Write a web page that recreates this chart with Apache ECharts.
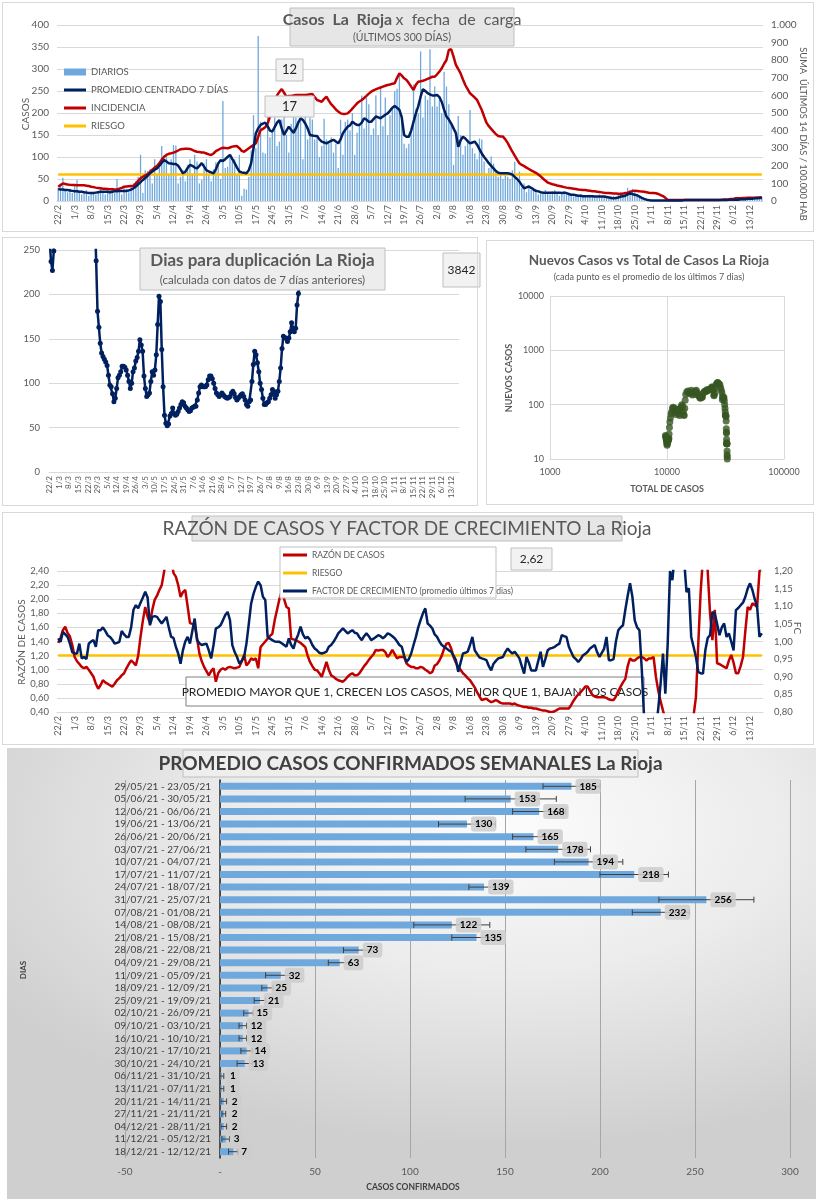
<!DOCTYPE html>
<html><head><meta charset="utf-8">
<script src="https://cdn.jsdelivr.net/npm/echarts@6.0.0/dist/echarts.min.js"></script>
<style>
body{margin:0;width:816px;height:1200px;position:relative;background:#fff;overflow:hidden}
.c{position:absolute}
.b{position:absolute;border:1px solid #d9d9d9;box-sizing:border-box;pointer-events:none;z-index:5}
#c5{background:radial-gradient(ellipse 75% 70% at 62% 18%, #fcfcfc 0%, #ececec 45%, #cfcfcf 100%)}
</style></head><body>
<div class="b" style="left:2px;top:2px;width:812px;height:230px"></div>
<div class="b" style="left:2px;top:237px;width:476px;height:269px"></div>
<div class="b" style="left:486px;top:240px;width:328px;height:265px"></div>
<div class="b" style="left:2px;top:512px;width:812px;height:233px"></div>
<div id="c1" class="c" style="left:0;top:0;width:816px;height:235px"></div>
<div id="c2" class="c" style="left:0;top:235px;width:482px;height:273px"></div>
<div id="c3" class="c" style="left:482px;top:235px;width:334px;height:273px"></div>
<div id="c4" class="c" style="left:0;top:508px;width:816px;height:240px"></div>
<div id="c5" class="c" style="left:7px;top:748px;width:809px;height:451px"></div>
<script>
// ---------- DATA ----------
const NDAYS = 300; // 22/2/2021 .. 18/12/2021
const dates = [];
for (let i = 0; i < NDAYS; i++) { const d = new Date(Date.UTC(2021, 1, 22 + i)); dates.push(d.getUTCDate() + '/' + (d.getUTCMonth() + 1)); }

const diarios = [
30,40,53,25,20,28,18,
35,48,22,15,20,25,12,18,20,15,22,28,18,15,25,20,30,18,50,22,15,30,28,20,35,40,45,55,105,18,70,
68,72,40,95,60,75,125,100,108,60,95,127,126,40,55,70,45,82,95,60,105,90,40,48,85,95,60,45,72,88,
90,50,227,75,78,105,90,95,60,105,12,28,26,55,115,195,120,375,180,110,108,200,145,160,190,125,135,185,195,150,110,
175,195,190,180,185,95,210,140,190,185,140,145,100,125,187,140,130,145,110,130,75,185,105,180,185,160,200,105,155,175,
240,165,235,220,150,165,240,150,255,170,235,150,195,210,250,255,290,195,130,120,130,160,265,210,200,340,190,240,230,345,215,
260,215,230,200,294,260,220,175,82,160,193,150,105,125,140,207,120,108,95,142,140,90,60,75,101,85,70,55,60,50,65,
55,50,70,89,45,67,30,40,20,35,25,30,28,15,22,18,25,20,15,22,25,20,12,18,22,15,18,12,10,15,
12,15,10,12,8,14,12,10,8,15,12,10,8,5,10,12,8,15,20,10,18,30,25,28,22,15,10,8,5,3,2,
1,2,1,0,1,2,1,1,3,1,0,2,1,1,3,2,1,2,2,3,1,2,2,1,3,2,1,2,3,2,
2,3,2,4,3,2,4,5,3,4,6,5,4,7,6,8,7,9];

const promedio7 = [
27,26,26,25,25,24,23,
22,22,21,21,20,19,18,18,18,19,20,21,21,21,21,20,21,22,22,23,23,23,23,24,26,29,33,38,43,48,52,
57,63,67,71,74,80,87,93,90,86,85,84,84,80,72,63,66,75,82,80,76,74,80,86,78,70,67,65,63,72,
85,93,91,95,100,105,95,86,76,67,65,64,63,70,86,120,154,165,173,176,178,170,160,158,168,178,184,165,150,160,169,
162,155,165,178,188,184,176,165,150,149,148,148,140,135,133,131,134,137,139,135,131,140,154,162,169,172,180,176,173,173,
178,188,185,180,180,186,192,190,188,192,196,199,205,212,216,212,207,190,150,146,146,160,180,199,215,237,254,250,245,242,240,
240,241,236,225,207,192,185,176,165,154,123,138,146,142,136,131,133,135,128,118,108,100,93,86,80,74,68,64,63,63,63,
63,62,60,55,50,44,36,29,31,33,30,26,23,22,20,19,19,19,19,19,19,19,19,18,19,18,16,14,14,13,
12,12,11,11,11,11,11,10,10,10,10,10,9,8,7,6,7,8,10,11,12,15,17,16,14,13,10,7,5,3,2,
1,1,1,1,1,1,1,1,1,1,1,1,1,1,2,2,2,2,2,2,2,2,2,2,2,2,2,2,2,2,
2,2,2,3,3,3,3,3,4,4,4,5,5,5,6,6,7,7];

const incidencia = [
81,90,100,97,94,92,91,
91,90,90,89,89,87,85,81,79,76,74,72,70,69,68,67,67,66,66,70,75,81,83,84,85,86,100,115,129,138,146,
153,165,178,190,199,215,235,252,262,268,271,275,280,287,294,296,297,297,296,290,284,280,278,276,275,270,265,261,270,283,
290,298,303,301,299,304,309,311,312,300,285,280,290,300,309,318,328,365,403,410,419,440,479,520,564,600,620,636,615,593,597,
597,600,602,602,602,602,602,604,606,608,590,574,569,564,580,593,570,550,536,520,508,498,495,495,498,510,525,540,555,565,
574,585,597,610,621,628,635,640,645,650,655,659,662,666,669,700,725,712,697,688,670,650,631,660,678,680,683,688,694,700,706,
706,720,735,754,780,801,858,862,820,773,750,725,690,659,635,612,600,588,574,545,517,480,445,425,410,394,380,369,367,366,350,
330,305,280,258,235,214,205,198,190,182,174,167,160,150,140,128,116,105,100,95,92,88,85,82,79,76,74,72,70,68,
65,64,63,62,60,58,56,55,53,51,49,47,46,45,44,43,42,41,40,42,45,47,52,56,59,57,55,54,53,50,47,
46,45,44,40,34,28,18,6,5,5,5,5,5,5,5,5,5,5,5,5,5,5,5,5,5,5,5,5,5,6,
7,8,9,10,12,13,15,15,16,17,17,18,18,19,19,20,20,21];

const riesgoIncidencia = 150;

const diasDuplicacion = [
260,237,227,249,290,
null,null,null,null,null,null,null,null,null,null,null,null,null,null,null,null,null,null,null,null,null,null,null,null,null,null,null,null,
290,238,181,163,145,134,130,127,124,120,
109,98,96,88,79,83,94,106,109,113,119,119,118,115,109,102,94,100,113,117,125,129,136,149,143,136,108,94,85,87,89,102,113,
109,115,132,166,198,192,138,96,64,55,52,54,63,66,72,66,64,65,
68,72,76,79,78,74,72,70,68,69,72,73,74,74,81,89,96,98,96,96,96,98,104,108,108,105,100,94,89,87,85,87,89,87,85,84,83,84,85,89,91,88,84,81,83,85,87,88,85,81,76,74,79,
81,102,121,136,132,123,113,100,93,83,
76,76,78,79,83,87,93,91,83,87,91,102,117,139,153,151,151,147,151,158,168,162,158,162,188,201,218,237,262,300];

const nuevosVsTotal = [
[9700,27],[9750,26],[9800,25],[9850,23],[9900,22],[9940,21],[9980,19],[10020,18],[10060,19],[10100,21],
[10140,21],[10185,21],[10230,22],[10275,23],[10320,23],[10370,24],[10420,29],[10490,38],[10580,48],[10690,57],
[10810,67],[10960,74],[11130,87],[11310,90],[11480,85],[11650,84],[11800,72],[11930,66],[12090,82],[12250,76],
[12400,80],[12560,78],[12700,67],[12830,63],[12990,85],[13180,91],[13380,100],[13580,95],[13760,76],[13900,65],
[14030,63],[14180,86],[14300,120],[14450,154],[14780,173],[15130,178],[15470,160],[15790,168],[16140,184],[16460,150],
[16780,169],[17100,155],[17440,178],[17810,184],[18150,165],[18460,149],[18750,148],[19030,135],[19290,131],[19560,137],
[19830,135],[20110,140],[20410,162],[20750,172],[21100,176],[21450,173],[21810,188],[22180,180],[22550,186],[22930,190],
[23310,192],[23710,199],[24130,212],[24560,212],[24950,190],[25100,150],[25250,146],[25550,160],[25900,199],[26350,237],
[26850,250],[27100,256],[27350,250],[27800,240],[28280,236],[28720,207],[29100,185],[29450,165],[29730,123],[29850,138],
[30130,142],[30400,131],[30660,135],[30920,118],[31120,100],[31300,86],[31450,74],[31580,64],[31700,63],[31830,63],
[31950,60],[32050,50],[32130,36],[32190,31],[32250,30],[32300,23],[32340,20],[32380,19],[32440,19],[32500,19],
[32560,19],[32610,14],[32650,12],[32700,11],[32740,10],[32780,9]];

const razonCasos = [
1.38,1.45,1.56,1.61,1.52,1.47,1.35,
1.18,1.12,1.08,1.04,1.02,1.04,1.00,0.95,0.90,0.80,0.73,0.78,0.85,0.82,0.80,0.78,0.76,0.80,0.85,0.88,0.92,0.95,1.02,1.08,1.13,1.10,1.06,1.20,1.47,1.70,1.89,
1.75,1.66,1.85,1.99,2.05,2.13,2.20,2.39,2.60,2.80,2.60,2.37,2.32,2.20,2.03,2.10,2.13,1.90,1.66,1.65,1.63,1.45,1.23,1.12,1.04,0.98,0.92,0.98,1.02,0.83,
0.95,1.00,1.02,1.00,1.03,1.04,1.03,1.02,1.03,1.04,1.12,1.21,1.06,1.10,1.16,1.14,1.16,1.02,1.32,1.36,1.40,1.44,1.48,1.51,1.70,1.85,2.00,2.11,2.00,1.89,1.87,
1.44,1.43,1.42,1.40,1.38,1.35,1.32,1.20,1.11,1.05,1.00,0.99,0.95,0.90,1.00,1.11,1.00,0.92,0.90,0.87,0.85,0.84,0.83,0.86,0.90,0.93,0.95,0.92,0.92,0.95,
1.00,1.05,1.09,1.14,1.18,1.22,1.28,1.27,1.28,1.28,1.25,1.18,1.22,1.28,1.22,1.16,1.18,1.18,1.18,1.09,1.06,1.04,1.04,1.02,1.02,1.04,1.03,1.00,0.98,0.95,0.97,
1.06,1.08,1.13,1.20,1.30,1.37,1.38,1.30,1.18,1.10,1.04,1.00,0.95,0.92,0.88,0.85,0.80,0.75,0.68,0.62,0.57,0.58,0.59,0.56,0.54,0.55,0.57,0.55,0.53,0.52,0.52,
0.52,0.52,0.51,0.52,0.50,0.49,0.48,0.47,0.47,0.46,0.46,0.45,0.45,0.44,0.43,0.42,0.42,0.41,0.40,0.40,0.41,0.43,0.45,0.45,0.45,0.45,0.45,0.50,0.56,0.61,
0.65,0.68,0.72,0.76,0.76,0.70,0.64,0.62,0.61,0.61,0.61,0.61,0.60,0.58,0.57,0.57,0.62,0.70,0.76,0.82,0.87,1.05,1.16,1.13,1.13,1.16,1.18,1.18,1.16,1.13,1.16,
1.16,1.18,0.90,0.70,0.55,0.42,0.30,0.20,0.20,0.20,0.20,0.20,0.20,0.20,0.20,0.20,0.20,0.20,0.35,0.61,1.37,2.10,2.60,2.80,2.40,1.80,1.42,1.85,1.09,1.08,
1.06,1.04,1.02,1.13,1.21,1.10,0.95,0.95,1.05,1.18,1.55,1.89,1.85,1.94,1.92,1.89,2.39,2.50];

const factorCrecimiento = [
1.009,0.999,1.027,1.020,1.013,0.994,0.970,
0.966,0.966,0.994,0.952,0.956,0.950,0.994,1.000,1.004,0.985,1.032,1.032,1.040,1.030,1.018,1.013,1.005,0.994,0.996,0.999,1.030,1.020,1.013,1.013,1.040,1.090,1.103,1.094,1.110,1.125,1.141,
1.125,1.046,1.070,1.072,1.070,1.060,1.051,1.060,1.070,1.040,1.013,1.010,0.985,0.966,0.937,0.975,1.000,1.013,0.994,1.030,1.065,1.004,0.995,0.990,0.992,0.994,0.975,0.952,0.990,1.037,
1.040,1.046,1.060,1.075,1.084,1.061,0.990,0.970,0.956,0.937,0.945,0.956,0.994,1.050,1.108,1.135,1.155,1.170,1.160,1.127,1.118,1.013,1.008,1.004,1.000,0.999,0.999,0.995,0.990,0.985,1.009,
0.990,0.980,1.004,1.020,1.042,1.020,1.009,1.013,1.005,0.990,0.980,0.975,0.968,0.966,0.968,0.971,0.985,0.990,0.999,1.010,1.023,1.030,1.037,1.030,1.023,1.028,1.032,1.025,1.023,1.012,
1.004,1.015,1.023,1.015,1.004,1.008,1.013,1.018,1.015,1.009,1.015,1.023,1.020,1.015,1.009,1.000,0.990,0.985,0.960,0.942,0.950,0.966,0.990,1.013,1.040,1.061,1.080,1.094,1.051,1.045,1.037,
1.020,1.013,1.000,0.990,0.985,0.980,0.975,0.971,0.960,0.947,0.914,0.940,0.966,0.968,0.971,0.990,1.013,0.975,0.965,0.955,0.952,0.950,0.947,0.930,0.918,0.937,0.945,0.952,0.954,0.956,0.970,
0.980,0.972,0.966,0.971,0.962,0.952,0.930,0.909,0.956,0.940,0.918,0.918,0.918,0.945,0.971,0.928,0.950,0.975,0.980,0.982,0.985,0.990,0.994,1.018,1.015,1.013,0.985,0.970,0.956,0.950,
0.942,0.950,0.961,0.965,0.971,0.980,0.985,0.990,0.970,0.956,0.968,0.980,1.013,0.947,0.947,0.950,1.000,1.032,1.040,1.046,1.090,1.130,1.165,1.127,1.060,1.040,1.032,0.920,0.780,0.700,0.700,
0.700,0.700,0.750,0.810,0.881,0.966,0.852,0.994,1.200,1.174,1.250,1.300,1.300,1.280,1.230,1.140,1.151,1.013,0.985,0.956,0.914,0.910,0.909,0.975,1.010,1.018,1.084,1.079,1.050,1.018,
1.040,1.051,1.013,1.023,1.000,0.975,1.089,1.095,1.103,1.110,1.127,1.150,1.165,1.146,1.120,1.099,1.013,1.023];

const riesgoRazon = 1.20;

const semanas = ["29/05/21 - 23/05/21","05/06/21 - 30/05/21","12/06/21 - 06/06/21","19/06/21 - 13/06/21","26/06/21 - 20/06/21",
"03/07/21 - 27/06/21","10/07/21 - 04/07/21","17/07/21 - 11/07/21","24/07/21 - 18/07/21","31/07/21 - 25/07/21",
"07/08/21 - 01/08/21","14/08/21 - 08/08/21","21/08/21 - 15/08/21","28/08/21 - 22/08/21","04/09/21 - 29/08/21",
"11/09/21 - 05/09/21","18/09/21 - 12/09/21","25/09/21 - 19/09/21","02/10/21 - 26/09/21","09/10/21 - 03/10/21",
"16/10/21 - 10/10/21","23/10/21 - 17/10/21","30/10/21 - 24/10/21","06/11/21 - 31/10/21","13/11/21 - 07/11/21",
"20/11/21 - 14/11/21","27/11/21 - 21/11/21","04/12/21 - 28/11/21","11/12/21 - 05/12/21","18/12/21 - 12/12/21"];
const promedioSemanal = [185,153,168,130,165,178,194,218,139,256,232,122,135,73,63,32,25,21,15,12,12,14,13,1,1,2,2,2,3,7];
const errorSemanal = [15,24,14,15,11,17,18,18,8,25,15,20,13,8,6,8,3,3,2.5,2,2,3,4,1,1,1.5,1,1.5,2,2.5];

// ---------- HELPERS ----------
const FONT = 'Lato, "Noto Sans", sans-serif';
const GRAY = '#595959';
const GL = '#d9d9d9';
function rect(x, y, w, h, fill, stroke, z) { return { type: 'rect', silent: true, z: z, shape: { x: x, y: y, width: w, height: h }, style: { fill: fill, stroke: stroke, lineWidth: 1 } }; }
function text(x, y, t, size, weight, color, z, extra) {
  return Object.assign({ type: 'text', silent: true, z: z, x: x, y: y,
    style: { text: t, fontSize: size, fontWeight: weight || 'normal', fontFamily: FONT, fill: color || GRAY, textAlign: 'center', textVerticalAlign: 'middle' } }, extra || {});
}
const comma2 = v => v.toFixed(2).replace('.', ',');
function dateAxis(fs) {
  return { type: 'category', data: dates, boundaryGap: true, axisTick: { show: false },
    axisLine: { lineStyle: { color: GL } },
    axisLabel: { interval: 6, rotate: 90, fontSize: fs, color: GRAY, fontFamily: FONT, margin: 4 } };
}
const lastIdx = NDAYS - 1;
const UP = Math.PI / 2, DOWN = -Math.PI / 2;

// ---------- CHART 1 ----------
const c1 = echarts.init(document.getElementById('c1'));
const legTxt1 = { fontSize: 9.5, color: GRAY, fontFamily: FONT, lineHeight: 12 };
c1.setOption({
  animation: false,
  textStyle: { fontFamily: FONT },
  grid: { left: 57, right: 53, top: 25, height: 176, containLabel: false, outerBoundsMode: 'none' },
  legend: [
    { orient: 'vertical', left: 64, top: 66, itemWidth: 22, itemHeight: 7, padding: 0, textStyle: legTxt1,
      data: [{ name: 'DIARIOS', icon: 'rect' }] },
    { orient: 'vertical', left: 64, top: 84, itemWidth: 22, itemHeight: 3, itemGap: 6, padding: 0, textStyle: legTxt1,
      data: [{ name: 'PROMEDIO CENTRADO 7 DÍAS', icon: 'rect' }, { name: 'INCIDENCIA', icon: 'rect' }, { name: 'RIESGO', icon: 'rect' }] }
  ],
  xAxis: dateAxis(9),
  yAxis: [
    { type: 'value', min: 0, max: 400, interval: 50, axisLine: { show: false }, axisTick: { show: false },
      axisLabel: { fontSize: 10, color: GRAY, margin: 8 }, splitLine: { lineStyle: { color: GL } } },
    { type: 'value', min: 0, max: 1000, interval: 100,
      axisLine: { show: false }, axisTick: { show: false }, splitLine: { show: false },
      axisLabel: { fontSize: 10, color: GRAY, margin: 8, formatter: v => v === 1000 ? '1.000' : String(v) } }
  ],
  series: [
    { name: 'DIARIOS', type: 'bar', data: diarios, barWidth: '55%', itemStyle: { color: '#6fa8dc' } },
    { name: 'RIESGO', type: 'line', yAxisIndex: 1, data: [[0, riesgoIncidencia], [lastIdx, riesgoIncidencia]], symbol: 'none',
      lineStyle: { color: '#ffc000', width: 2.5 }, itemStyle: { color: '#ffc000' }, z: 3 },
    { name: 'INCIDENCIA', type: 'line', yAxisIndex: 1, data: incidencia, symbol: 'none',
      lineStyle: { color: '#c00000', width: 2.5 }, itemStyle: { color: '#c00000' }, z: 4 },
    { name: 'PROMEDIO CENTRADO 7 DÍAS', type: 'line', data: promedio7, symbol: 'none',
      lineStyle: { color: '#002060', width: 2.5 }, itemStyle: { color: '#002060' }, z: 5 }
  ],
  graphic: [
    text(26, 114, 'CASOS', 10, 'normal', GRAY, 21, { rotation: UP }),
    text(803, 134, 'SUMA  ÚLTIMOS 14 DÍAS / 100.000 HAB', 9.3, 'normal', GRAY, 21, { rotation: DOWN }),
    rect(290, 8, 224, 38, '#e7e6e6', '#bfbfbf', 20),
    { type: 'text', z: 21, silent: true, x: 402, y: 20, style: { text: '{b|Casos  La  Rioja} {n|x  fecha  de  carga}', textAlign: 'center', textVerticalAlign: 'middle',
      rich: { b: { fontSize: 16, fontWeight: 'bold', fontFamily: FONT, fill: GRAY, color: GRAY }, n: { fontSize: 16, fontFamily: FONT, fill: GRAY, color: GRAY } } } },
    text(402, 38, '(ÚLTIMOS 300 DÍAS)', 10.5, 'normal', GRAY, 21),
    rect(276, 59, 27, 22, '#f2f2f2', '#bfbfbf', 20),
    text(289.5, 70, '12', 13, 'normal', '#262626', 21),
    rect(265, 96, 49, 21, '#f2f2f2', '#bfbfbf', 20),
    text(289.5, 106.5, '17', 13, 'normal', '#262626', 21)
  ]
});

// ---------- CHART 2 ----------
const c2 = echarts.init(document.getElementById('c2'));
c2.setOption({
  animation: false,
  textStyle: { fontFamily: FONT },
  grid: { left: 49, right: 23, top: 15, height: 222, containLabel: false, outerBoundsMode: 'none' },
  xAxis: dateAxis(8),
  yAxis: { type: 'value', min: 0, max: 250, interval: 50, axisLine: { show: false }, axisTick: { show: false },
    axisLabel: { fontSize: 9.5, color: GRAY, margin: 9 }, splitLine: { lineStyle: { color: GL } } },
  series: [{ name: 'DUPLICACION', type: 'line', data: diasDuplicacion, connectNulls: false, clip: true,
    symbol: 'circle', symbolSize: 5, showSymbol: true, showAllSymbol: true,
    lineStyle: { color: '#002060', width: 2.5 }, itemStyle: { color: '#002060' } }],
  graphic: [
    rect(140, 13, 245, 42, '#ededed', '#bfbfbf', 20),
    text(262.5, 26, 'Dias para duplicación La Rioja', 17, 'bold', GRAY, 21),
    text(262.5, 45, '(calculada con datos de 7 días anteriores)', 11.5, 'normal', GRAY, 21),
    rect(443, 18, 37, 34, '#f2f2f2', '#bfbfbf', 20),
    text(461.5, 35, '3842', 12, 'normal', '#262626', 21)
  ]
});

// ---------- CHART 3 ----------
const c3 = echarts.init(document.getElementById('c3'));
c3.setOption({
  animation: false,
  textStyle: { fontFamily: FONT },
  grid: { left: 68, right: 32, top: 61, height: 163, containLabel: false, outerBoundsMode: 'none' },
  xAxis: { type: 'log', logBase: 10, min: 1000, max: 100000,
    axisLine: { lineStyle: { color: GL } }, axisTick: { show: false }, splitLine: { show: true, lineStyle: { color: GL } },
    axisLabel: { fontSize: 9, color: GRAY, margin: 9, formatter: v => String(Math.round(v)) } },
  yAxis: { type: 'log', logBase: 10, min: 10, max: 10000,
    axisLine: { show: true, lineStyle: { color: GL } }, axisTick: { show: false }, splitLine: { show: true, lineStyle: { color: GL } },
    axisLabel: { fontSize: 9, color: GRAY, margin: 6, formatter: v => String(Math.round(v)) } },
  series: [{ type: 'scatter', data: nuevosVsTotal, symbolSize: 7, itemStyle: { color: '#375623' }, clip: true }],
  graphic: [
    text(167, 26, 'Nuevos Casos vs Total de Casos La Rioja', 13.5, 'bold', GRAY, 21),
    text(167, 42, '(cada punto es el promedio de los últimos 7 dias)', 9, 'normal', GRAY, 21),
    text(185, 254, 'TOTAL DE CASOS', 9, 'bold', GRAY, 21),
    text(27, 143, 'NUEVOS CASOS', 9, 'bold', GRAY, 21, { rotation: UP })
  ]
});

// ---------- CHART 4 ----------
const c4 = echarts.init(document.getElementById('c4'));
c4.setOption({
  animation: false,
  textStyle: { fontFamily: FONT },
  grid: { left: 57, right: 53, top: 63, height: 141, containLabel: false, outerBoundsMode: 'none' },
  legend: { orient: 'vertical', left: 283, top: 41, itemWidth: 24, itemHeight: 3, itemGap: 6, z: 30, padding: 0,
    textStyle: { fontSize: 8.5, color: GRAY, fontFamily: FONT, lineHeight: 12 },
    data: [{ name: 'RAZÓN DE CASOS', icon: 'rect' }, { name: 'RIESGO', icon: 'rect' }, { name: 'FACTOR DE CRECIMIENTO (promedio últimos 7 dias)', icon: 'rect' }] },
  xAxis: dateAxis(9),
  yAxis: [
    { type: 'value', min: 0.4, max: 2.4, interval: 0.2, axisLine: { show: false }, axisTick: { show: false },
      axisLabel: { fontSize: 9.5, color: GRAY, margin: 8, formatter: comma2 }, splitLine: { lineStyle: { color: GL } } },
    { type: 'value', min: 0.8, max: 1.2, interval: 0.05, axisLine: { show: false }, axisTick: { show: false }, splitLine: { show: false },
      axisLabel: { fontSize: 9.5, color: GRAY, margin: 11, formatter: comma2 } }
  ],
  series: [
    { name: 'RIESGO', type: 'line', data: [[0, riesgoRazon], [lastIdx, riesgoRazon]], symbol: 'none',
      lineStyle: { color: '#ffc000', width: 2.5 }, itemStyle: { color: '#ffc000' }, z: 3 },
    { name: 'RAZÓN DE CASOS', type: 'line', data: razonCasos, symbol: 'none', clip: true,
      lineStyle: { color: '#c00000', width: 2.5 }, itemStyle: { color: '#c00000' }, z: 4 },
    { name: 'FACTOR DE CRECIMIENTO (promedio últimos 7 dias)', type: 'line', yAxisIndex: 1, data: factorCrecimiento, symbol: 'none', clip: true,
      lineStyle: { color: '#002060', width: 2.5 }, itemStyle: { color: '#002060' }, z: 5 }
  ],
  graphic: [
    text(22, 134, 'RAZÓN DE CASOS', 10, 'normal', GRAY, 21, { rotation: UP }),
    text(797, 120, 'FC', 10, 'normal', GRAY, 21, { rotation: DOWN }),
    rect(192, 8, 430, 25, '#e7e6e6', '#bfbfbf', 20),
    text(407, 21, 'RAZÓN DE CASOS Y FACTOR DE CRECIMIENTO La Rioja', 19, 'normal', GRAY, 21),
    rect(280, 39, 216, 51, '#ffffff', '#bfbfbf', 25),
    rect(511, 40, 41, 22, '#f2f2f2', '#bfbfbf', 20),
    text(531.5, 51, '2,62', 12, 'normal', '#262626', 21),
    rect(186, 169, 458, 29, '#ffffff', '#7f7f7f', 1),
    text(415, 184, 'PROMEDIO MAYOR QUE 1, CRECEN LOS CASOS, MENOR QUE 1, BAJAN LOS CASOS', 12, 'normal', '#262626', 1)
  ]
});

// ---------- CHART 5 ----------
const c5 = echarts.init(document.getElementById('c5'));
const errData = promedioSemanal.map((v, i) => [i, v - errorSemanal[i], v + errorSemanal[i]]);
c5.setOption({
  animation: false,
  textStyle: { fontFamily: FONT },
  grid: { left: 118, right: 26, top: 32, height: 378, containLabel: false, outerBoundsMode: 'none' },
  xAxis: { type: 'value', min: -50, max: 300, interval: 50, axisLine: { show: false }, axisTick: { show: false },
    splitLine: { lineStyle: { color: '#a6a6a6', width: 1 } },
    axisLabel: { fontSize: 10, color: GRAY, margin: 9, formatter: v => v === 0 ? '-' : String(v) } },
  yAxis: { type: 'category', data: semanas, inverse: true, axisTick: { show: false },
    axisLine: { show: true, onZero: true, lineStyle: { color: '#262626', width: 1.5 } },
    axisLabel: { fontSize: 10, color: '#404040', margin: -86, interval: 0 } },
  series: [
    { type: 'bar', data: promedioSemanal, barWidth: 7, itemStyle: { color: '#6fa8dc' }, z: 2 },
    { type: 'custom', data: errData, z: 3, encode: { x: [1, 2], y: 0 },
      renderItem: function (params, api) {
        const lo = api.coord([api.value(1), api.value(0)]);
        const hi = api.coord([api.value(2), api.value(0)]);
        const st = { stroke: '#404040', lineWidth: 1 };
        return { type: 'group', children: [
          { type: 'line', shape: { x1: lo[0], y1: lo[1], x2: hi[0], y2: hi[1] }, style: st },
          { type: 'line', shape: { x1: lo[0], y1: lo[1] - 3, x2: lo[0], y2: lo[1] + 3 }, style: st },
          { type: 'line', shape: { x1: hi[0], y1: hi[1] - 3, x2: hi[0], y2: hi[1] + 3 }, style: st }
        ] };
      } },
    { type: 'bar', data: promedioSemanal, barWidth: 7, barGap: '-100%', itemStyle: { color: 'rgba(0,0,0,0)' }, z: 6, silent: true,
      label: { show: true, position: 'right', distance: 4, formatter: '{c}', fontSize: 10, fontWeight: 'bold', color: '#000',
        fontFamily: FONT, backgroundColor: 'rgba(205,205,205,0.85)', padding: [3, 4, 2, 4], borderRadius: 3 } }
  ],
  graphic: [
    rect(176, 2, 455, 27, '#eeeeee', '#bfbfbf', 20),
    text(403.5, 15.5, 'PROMEDIO CASOS CONFIRMADOS SEMANALES La Rioja', 19, 'bold', '#404040', 21),
    text(16, 222, 'DIAS', 8, 'bold', '#404040', 21, { rotation: UP }),
    text(406, 439, 'CASOS CONFIRMADOS', 8.5, 'bold', '#404040', 21)
  ]
});
</script>
</body></html>
